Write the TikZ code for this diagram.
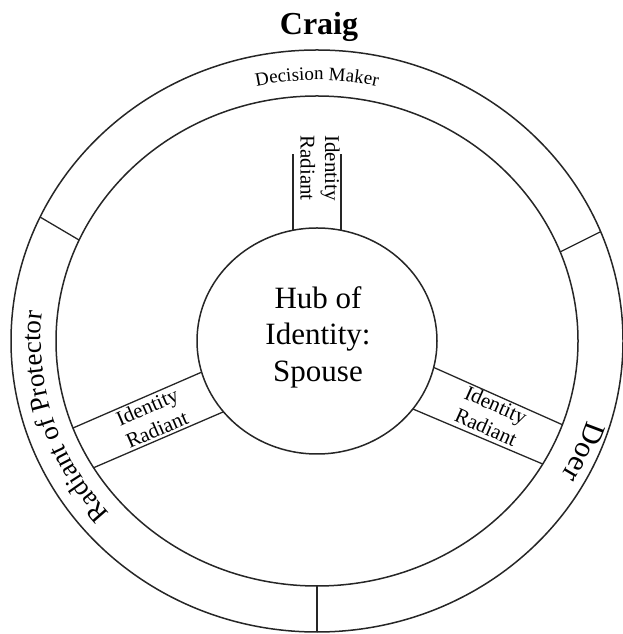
\documentclass[tikz,border=0pt]{standalone}
\usepackage{fontspec}
\setmainfont{Liberation Serif}
\newfontfamily\wheelfont{Liberation Serif}
\usetikzlibrary{decorations.text}
\begin{document}
\begin{tikzpicture}[x=1pt,y=1pt, font=\wheelfont,
  ringline/.style={line width=1.5pt, draw=black!85},
  partline/.style={line width=1.3pt, draw=black!85, shorten <=-40pt, shorten >=-40pt},
  radtext/.style={font=\wheelfont\fontsize{21}{24.5}\selectfont, align=center, inner sep=0pt},
]
\useasboundingbox (0,0) rectangle (623,634);
\coordinate (C) at (317,293);

% wheel rings and hub
\draw[ringline] (C) ellipse [x radius=306, y radius=291];
\draw[ringline] (C) ellipse [x radius=261, y radius=245];
\draw[ringline] (C) ellipse [x radius=120, y radius=113];

% radiants between hub and inner ring
\coordinate (ta1) at (293,380); \coordinate (ta2) at (293,440);
\coordinate (tb1) at (341,380); \coordinate (tb2) at (341,440);
\coordinate (la1) at (73,206);  \coordinate (la2) at (202,262);
\coordinate (lb1) at (93,166);  \coordinate (lb2) at (223,222);
\coordinate (ra1) at (435,266); \coordinate (ra2) at (563,209);
\coordinate (rb1) at (420,222); \coordinate (rb2) at (545,169);
\begin{scope}[even odd rule]
  \clip (C) ellipse [x radius=261, y radius=245]
        (C) ellipse [x radius=120, y radius=113];
  \draw[partline] (ta1) -- (ta2);
  \draw[partline] (tb1) -- (tb2);
  \draw[partline] (la1) -- (la2);
  \draw[partline] (lb1) -- (lb2);
  \draw[partline] (ra1) -- (ra2);
  \draw[partline] (rb1) -- (rb2);
\end{scope}

% dividers of the outer band
\coordinate (d1a) at (40,417);  \coordinate (d1b) at (79,394);
\coordinate (d2a) at (562,383); \coordinate (d2b) at (604,404);
\coordinate (d3a) at (317,47);  \coordinate (d3b) at (317,2);
\begin{scope}[even odd rule]
  \clip (C) ellipse [x radius=306, y radius=291]
        (C) ellipse [x radius=261, y radius=245];
  \draw[partline] (d1a) -- (d1b);
  \draw[partline] (d2a) -- (d2b);
  \draw[partline] (d3a) -- (d3b);
\end{scope}

% labels
\node[font=\wheelfont\bfseries\fontsize{32}{32}\selectfont, anchor=base] (title) at (319,599) {Craig};
\node[font=\wheelfont\fontsize{31}{36.5}\selectfont, align=center] (hub) at (318,297) {Hub of\\Identity:\\Spouse};
\node[radtext, rotate=-90] (radtop) at (320,466) {Identity\\Radiant};
\node[radtext, rotate=23.5] (radleft) at (152,216) {Identity\\Radiant};
\node[radtext, rotate=-24] (radright) at (491,218) {Identity\\Radiant};

% band labels set along the ring
\path[shift={(C)}, decorate, decoration={text along path, text align=center,
  text={|\wheelfont\fontsize{19}{19}\selectfont|Decision Maker}}]
  (135:277 and 261) arc[start angle=135, end angle=45, x radius=277, y radius=261];
\path[shift={(C)}, decorate, decoration={text along path, text align=center,
  text={|\wheelfont\fontsize{27}{27}\selectfont|Radiant of Protector}}]
  (252:276 and 260) arc[start angle=252, end angle=142, x radius=276, y radius=260];
\path[shift={(C)}, decorate, decoration={text along path, text align=center,
  text={|\wheelfont\fontsize{30}{30}\selectfont|Doer}}]
  (27:283 and 267) arc[start angle=27, end angle=-73, x radius=283, y radius=267];
\end{tikzpicture}
\end{document}
